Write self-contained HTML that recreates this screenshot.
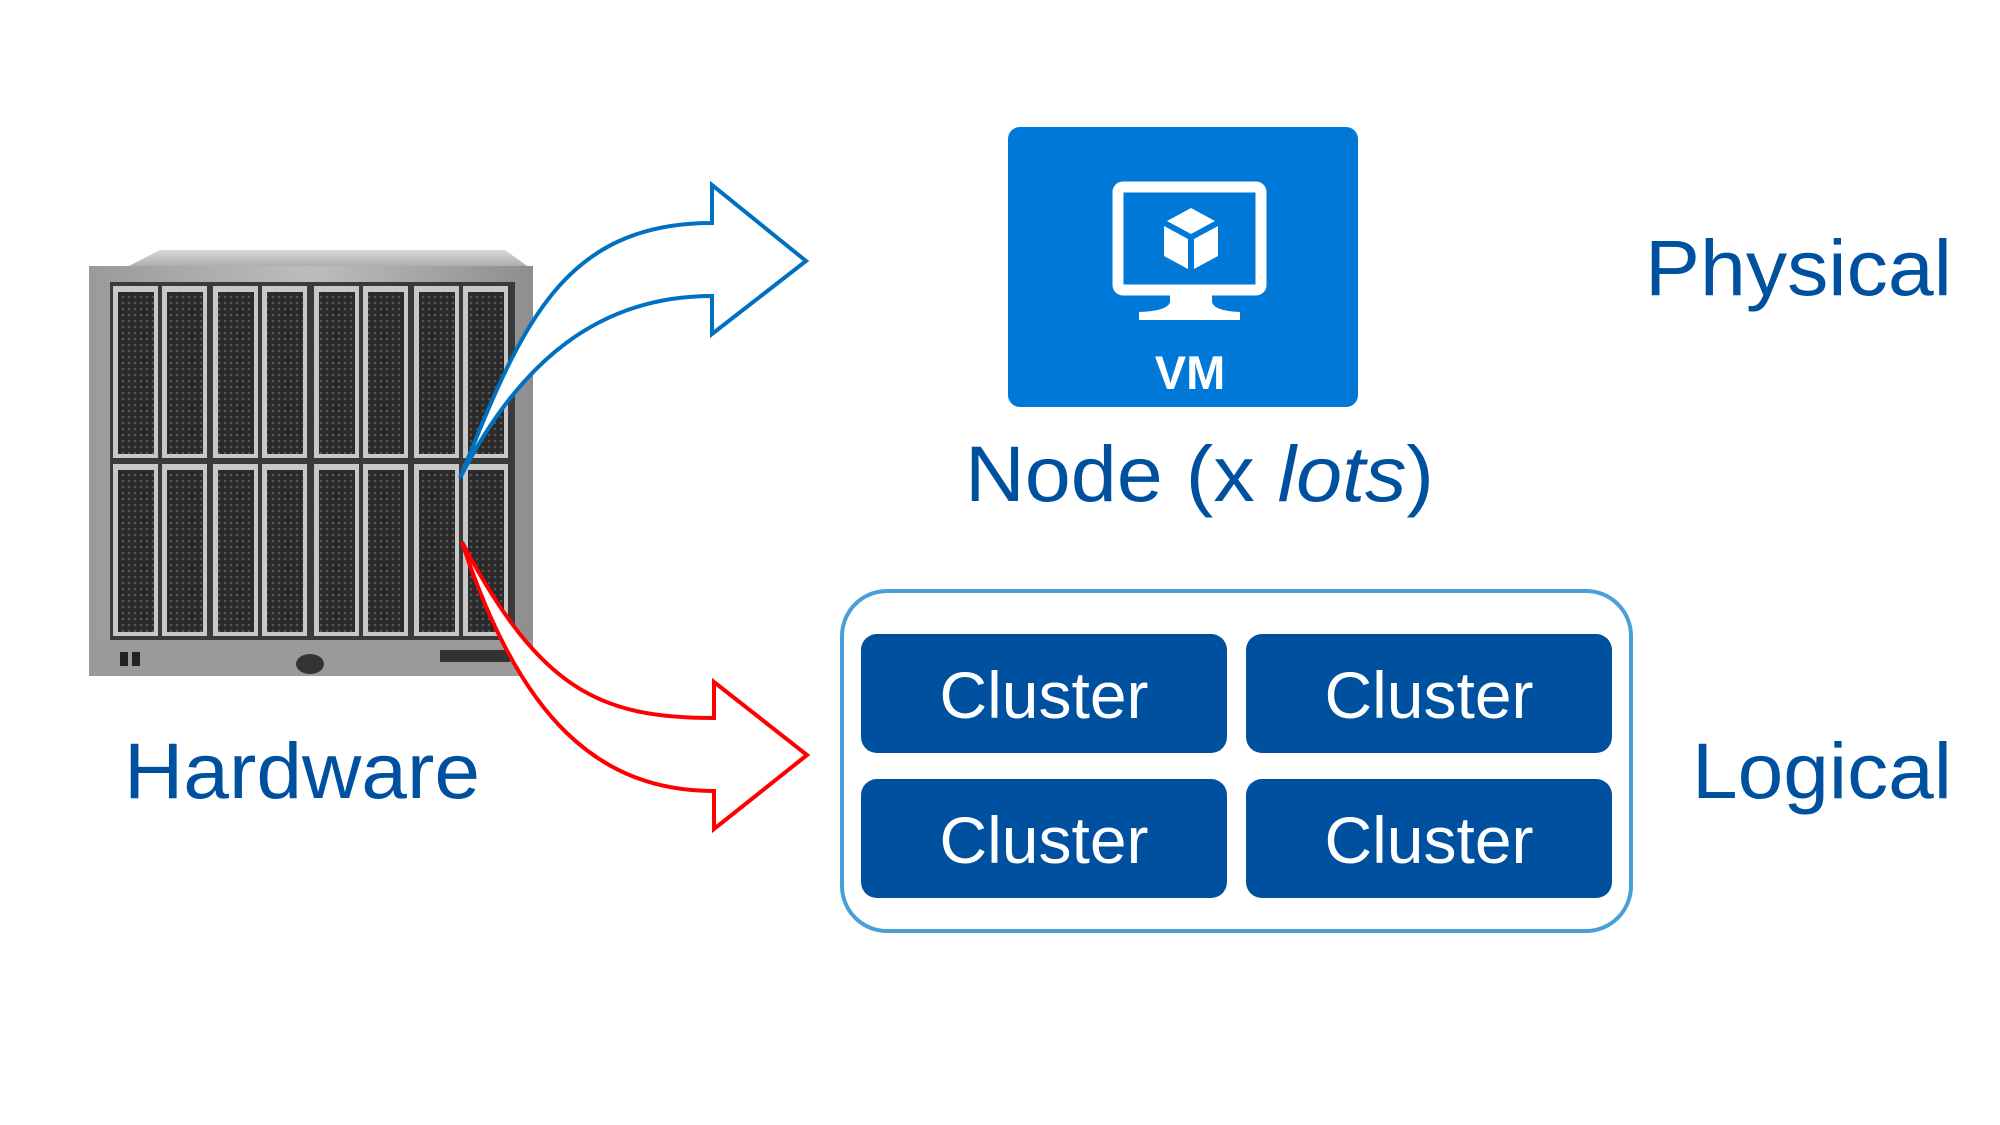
<!DOCTYPE html>
<html><head><meta charset="utf-8"><style>
html,body{margin:0;padding:0;background:#fff;}
svg{display:block;}
text{font-family:"Liberation Sans",Arial,sans-serif;}
</style></head><body>
<svg width="2000" height="1125" viewBox="0 0 2000 1125" xmlns="http://www.w3.org/2000/svg">
<defs>
<linearGradient id="top" x1="0" y1="0" x2="0" y2="1"><stop offset="0" stop-color="#d8d8d8"/><stop offset="1" stop-color="#a9a9a9"/></linearGradient>
<linearGradient id="body" x1="0" y1="0" x2="1" y2="0"><stop offset="0" stop-color="#9a9a9a"/><stop offset="0.5" stop-color="#bdbdbd"/><stop offset="1" stop-color="#8e8e8e"/></linearGradient>
<pattern id="grill" width="6" height="6" patternUnits="userSpaceOnUse"><rect width="6" height="6" fill="#2a2a2a"/><circle cx="3" cy="3" r="1.3" fill="#555"/></pattern>
</defs>
<!-- server -->
<polygon points="125,268 160,250 505,250 530,268" fill="url(#top)"/>
<rect x="89" y="266" width="444" height="408" fill="url(#body)"/>
<rect x="110" y="282" width="405" height="366" fill="#3a3a3a"/>
<g id="row1">
<rect x="113" y="286" width="45" height="172" fill="#c8c8c8"/><rect x="118" y="292" width="36" height="162" fill="url(#grill)"/>
<rect x="162" y="286" width="45" height="172" fill="#c8c8c8"/><rect x="167" y="292" width="36" height="162" fill="url(#grill)"/>
<rect x="213" y="286" width="45" height="172" fill="#c8c8c8"/><rect x="218" y="292" width="36" height="162" fill="url(#grill)"/>
<rect x="262" y="286" width="45" height="172" fill="#c8c8c8"/><rect x="267" y="292" width="36" height="162" fill="url(#grill)"/>
<rect x="314" y="286" width="45" height="172" fill="#c8c8c8"/><rect x="319" y="292" width="36" height="162" fill="url(#grill)"/>
<rect x="363" y="286" width="45" height="172" fill="#c8c8c8"/><rect x="368" y="292" width="36" height="162" fill="url(#grill)"/>
<rect x="414" y="286" width="45" height="172" fill="#c8c8c8"/><rect x="419" y="292" width="36" height="162" fill="url(#grill)"/>
<rect x="463" y="286" width="45" height="172" fill="#c8c8c8"/><rect x="468" y="292" width="36" height="162" fill="url(#grill)"/>
</g>
<use href="#row1" transform="translate(0,178)"/>
<rect x="89" y="640" width="444" height="36" fill="#9a9a9a"/>
<rect x="120" y="652" width="8" height="14" fill="#222"/><rect x="132" y="652" width="8" height="14" fill="#222"/>
<ellipse cx="310" cy="664" rx="14" ry="10" fill="#333"/>
<rect x="440" y="650" width="70" height="12" fill="#333"/>
<!-- arrows -->
<path d="M460,478 C520,330 560,223 712,223 L712,185 L806,261 L712,334 L712,296 C600,296 520,360 460,478 Z" fill="#fff" stroke="#0070c0" stroke-width="4" stroke-linejoin="miter"/>
<path d="M462,542 C540,690 600,718 714,718 L714,682 L807,755 L714,829 L714,791 C600,791 520,720 462,542 Z" fill="#fff" stroke="#ff0000" stroke-width="4" stroke-linejoin="miter"/>
<!-- VM box -->
<rect x="1008" y="127" width="350" height="280" rx="12" fill="#0078d7"/>
<rect x="1118" y="187" width="143" height="103" rx="5" fill="none" stroke="#fff" stroke-width="11"/>
<path d="M1170,293 L1212,293 L1212,302 Q1214,311 1240,312 L1240,320 L1139,320 L1139,312 Q1168,311 1170,302 Z" fill="#fff"/>
<polygon points="1191,208 1215,221 1191,234 1167,221" fill="#fff"/>
<polygon points="1164,226 1188,239 1188,269 1164,256" fill="#fff"/>
<polygon points="1218,226 1194,239 1194,269 1218,256" fill="#fff"/>
<text x="1190" y="389" font-size="47" font-weight="bold" fill="#fff" text-anchor="middle">VM</text>
<!-- labels -->
<text x="965" y="501" font-size="79" fill="#0050a0" textLength="469" lengthAdjust="spacingAndGlyphs">Node (x <tspan font-style="italic">lots</tspan>)</text>
<text x="1645" y="295" font-size="79" fill="#0050a0" textLength="307" lengthAdjust="spacingAndGlyphs">Physical</text>
<text x="124" y="798" font-size="79" fill="#0050a0" textLength="356" lengthAdjust="spacingAndGlyphs">Hardware</text>
<text x="1692" y="798" font-size="79" fill="#0050a0" textLength="260" lengthAdjust="spacingAndGlyphs">Logical</text>
<!-- clusters -->
<rect x="842" y="591" width="789" height="340" rx="45" fill="none" stroke="#4a9fd8" stroke-width="4"/>
<rect x="861" y="634" width="366" height="119" rx="16" fill="#0050a0"/>
<rect x="1246" y="634" width="366" height="119" rx="16" fill="#0050a0"/>
<rect x="861" y="779" width="366" height="119" rx="16" fill="#0050a0"/>
<rect x="1246" y="779" width="366" height="119" rx="16" fill="#0050a0"/>
<g font-size="66" fill="#fff" text-anchor="middle">
<text x="1044" y="718">Cluster</text><text x="1429" y="718">Cluster</text>
<text x="1044" y="863">Cluster</text><text x="1429" y="863">Cluster</text>
</g>
</svg>
</body></html>
